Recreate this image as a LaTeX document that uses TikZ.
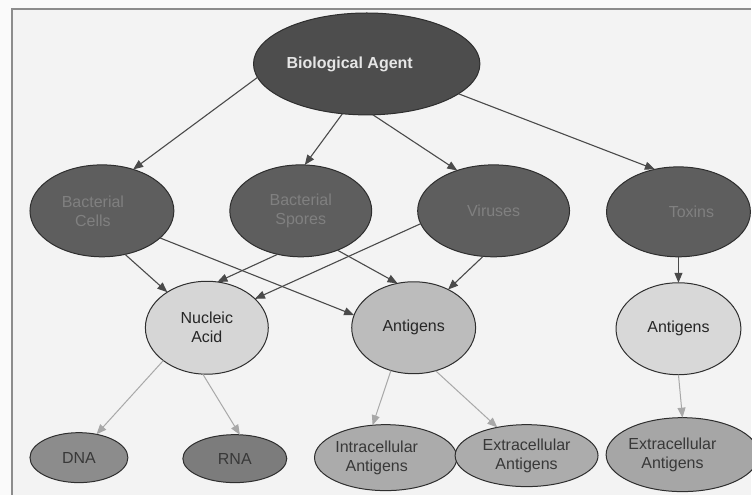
\documentclass[tikz,border=0pt]{standalone}
\usepackage{fontspec}
\setmainfont{Liberation Sans}
\usetikzlibrary{shapes.geometric,arrows.meta}

\definecolor{paper}{HTML}{FAFAFA}
\definecolor{panel}{HTML}{F3F3F3}
\definecolor{frameline}{HTML}{8C8C8C}
\definecolor{outline}{HTML}{2E2E2E}
\definecolor{rootfill}{HTML}{4D4D4D}
\definecolor{roottext}{HTML}{E6E6E6}
\definecolor{classfill}{HTML}{5E5E5E}
\definecolor{classtext}{HTML}{808080}
\definecolor{nafill}{HTML}{D6D6D6}
\definecolor{agfill}{HTML}{BCBCBC}
\definecolor{agrfill}{HTML}{D8D8D8}
\definecolor{dnafill}{HTML}{8C8C8C}
\definecolor{rnafill}{HTML}{7C7C7C}
\definecolor{intrafill}{HTML}{ABABAB}
\definecolor{extrafill}{HTML}{ACACAC}
\definecolor{extrarfill}{HTML}{A6A6A6}
\definecolor{darkarrow}{HTML}{4A4A4A}
\definecolor{lightarrow}{HTML}{A8A8A8}

\tikzset{
  bub/.style={ellipse, draw=outline, line width=1pt, inner sep=0pt, outer sep=0pt,
    align=center, font=\fontsize{16}{19}\selectfont, text=black!85},
  sz/.style 2 args={minimum width=#1, minimum height=#2},
  rootnode/.style={bub, fill=rootfill, text=roottext, font=\bfseries\fontsize{16}{19}\selectfont},
  classnode/.style={bub, fill=classfill, text=classtext},
  leafnode/.style={bub, text=black!78},
  link/.style={draw=darkarrow, line width=1.1pt,
    -{Triangle[length=10pt,width=8pt,fill=darkarrow]}},
  sublink/.style={draw=lightarrow, line width=1pt,
    -{Triangle[length=10pt,width=8pt,fill=lightarrow]}}
}

\begin{document}
\begin{tikzpicture}[x=1pt,y=-1pt]
  % page and frame
  \fill[paper] (0,0) rectangle (752,495);
  \fill[panel] (12,9) rectangle (752,495);
  \draw[frameline, line width=1.2pt] (12,495) -- (12,9) -- (752,9);
  \useasboundingbox (0,0) rectangle (752,495);

  % root
  \node[rootnode, sz={200pt}{102pt}] (ba) at (367,64) {Biological Agent\hspace*{34pt}};

  % agent classes
  \node[classnode, sz={144pt}{92pt}] (bc) at (102,211) {Bacterial\hspace*{18pt}\\Cells\hspace*{18pt}};
  \node[classnode, sz={142pt}{92pt}] (bs) at (301,211) {Bacterial\\Spores};
  \node[classnode, sz={152pt}{92pt}] (vi) at (494,211) {Viruses};
  \node[classnode, sz={144pt}{90pt}] (tx) at (679,212) {\hspace*{26pt}Toxins};

  % detection targets
  \node[bub, fill=nafill, sz={123pt}{93pt}] (na) at (207,328) {Nucleic\\Acid};
  \node[bub, fill=agfill, sz={124pt}{92pt}] (ag) at (414,328) {Antigens};
  \node[bub, fill=agrfill, sz={125pt}{92pt}] (agr) at (679,329) {Antigens};

  % detection sub-targets
  \node[leafnode, fill=dnafill, sz={98pt}{50pt}] (dna) at (79,458) {DNA};
  \node[leafnode, fill=rnafill, sz={104pt}{48pt}] (rna) at (235,459) {RNA};
  \node[leafnode, fill=intrafill, sz={124pt}{66pt}] (intra) at (386,458)
    {Intracellular\hspace*{18pt}\\Antigens\hspace*{18pt}};
  \node[leafnode, fill=extrafill, sz={143pt}{62pt}] (extra) at (527,456)
    {Extracellular\\Antigens};
  \node[leafnode, fill=extrarfill, sz={136pt}{74pt}] (extrar) at (683,455)
    {Extracellular\hspace*{20pt}\\Antigens\hspace*{20pt}};

  % root to classes
  \draw[link] (ba.187) -- (bc.53);
  \draw[link] (ba.244) -- (bs.85);
  \draw[link] (ba.277) -- (vi.132);
  \draw[link] (ba.342) -- (tx.119);

  % classes to targets
  \draw[link] (bc.298) -- (na.138);
  \draw[link] (bc.335) -- (ag.168);
  \draw[link] (bs.242) -- (na.77);
  \draw[link] (bs.313) -- (ag.110);
  \draw[link] (vi.190) -- (na.31);
  \draw[link] (vi.257) -- (ag.48);
  \draw[link] (tx.south) -- (agr.north);

  % targets to sub-targets
  \draw[sublink] (na.217) -- (dna.53);
  \draw[sublink] (na.265) -- (rna.78);
  \draw[sublink] (ag.242) -- (intra.112);
  \draw[sublink] (ag.297) -- (extra.136);
  \draw[sublink] (agr.south) -- (extrar.north);
\end{tikzpicture}
\end{document}
